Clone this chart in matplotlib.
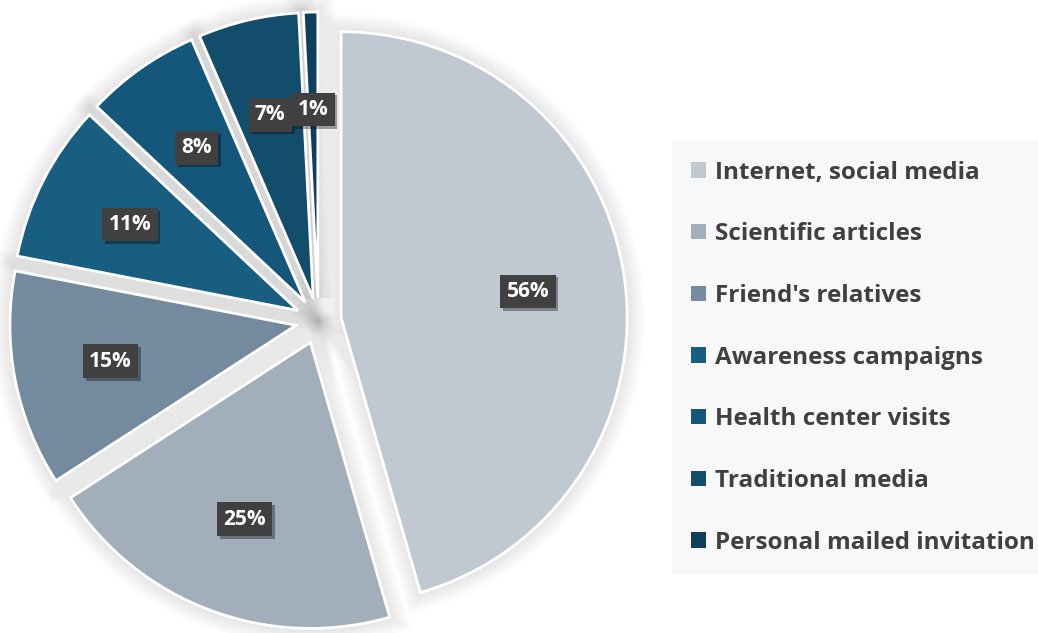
import matplotlib
matplotlib.use("Agg")
import matplotlib.pyplot as plt
import matplotlib.patheffects as pe
from matplotlib.patches import Patch, Wedge

# survey answers: where respondents heard about the programme (multi-select, %)
sources = ["Internet, social media", "Scientific articles", "Friend's relatives",
           "Awareness campaigns", "Health center visits", "Traditional media",
           "Personal mailed invitation"]
shares = [56, 25, 15, 11, 8, 7, 1]
colors = ["#C0C9D1", "#A2AFBB", "#748B9F", "#175E80", "#14577A", "#124E6B", "#0E405D"]

plt.rcParams["font.family"] = ["Open Sans", "DejaVu Sans"]

fig = plt.figure(figsize=(10.38, 6.33), dpi=100)
fig.patch.set_facecolor("white")
ax = fig.add_axes([0, 0, 0.64, 1])

wedges, texts = ax.pie(
    shares,
    colors=colors,
    startangle=90,
    counterclock=False,
    explode=[0.08] * len(shares),
    labels=[f"{v}%" for v in shares],
    labeldistance=0.66,
    wedgeprops=dict(edgecolor="white", linewidth=2),
    textprops=dict(color="white", fontsize=15, fontweight="bold",
                   ha="center", va="center", zorder=5),
)

# soft grey halo under every slice, built from many faint strokes
halo = [pe.Stroke(linewidth=lw, foreground="black", alpha=0.006)
        for lw in range(26, 0, -2)]
for w in wedges:
    w.set_zorder(2)
    shadow = Wedge(w.center, w.r, w.theta1, w.theta2, facecolor="none",
                   edgecolor="none", zorder=1)
    shadow.set_path_effects(halo)
    ax.add_patch(shadow)

# dark label boxes with a small drop shadow
for t in texts:
    t.set_bbox(dict(boxstyle="square,pad=0.3", facecolor="#404040", edgecolor="none"))
    t.get_bbox_patch().set_path_effects([
        pe.SimplePatchShadow(offset=(2, -2), shadow_rgbFace="black", alpha=0.35),
        pe.Normal(),
    ])

ax.set_xlim(-1.113, 1.209)
ax.set_ylim(-1.091, 1.122)
ax.set_aspect("equal")
ax.axis("off")

handles = [Patch(facecolor=c, edgecolor="none") for c in colors]
leg = fig.legend(
    handles, sources,
    loc="upper left",
    bbox_to_anchor=(0.647, 0.777),
    frameon=True,
    fancybox=False,
    facecolor="#F8F8F8",
    edgecolor="none",
    framealpha=1,
    fontsize=17.5,
    handlelength=0.6,
    handleheight=0.6,
    handletextpad=0.4,
    labelspacing=1.55,
    borderpad=0.8,
    borderaxespad=0,
)
for txt in leg.get_texts():
    txt.set_color("#404040")
    txt.set_fontweight("bold")

fig.savefig("out.png", dpi=100)
